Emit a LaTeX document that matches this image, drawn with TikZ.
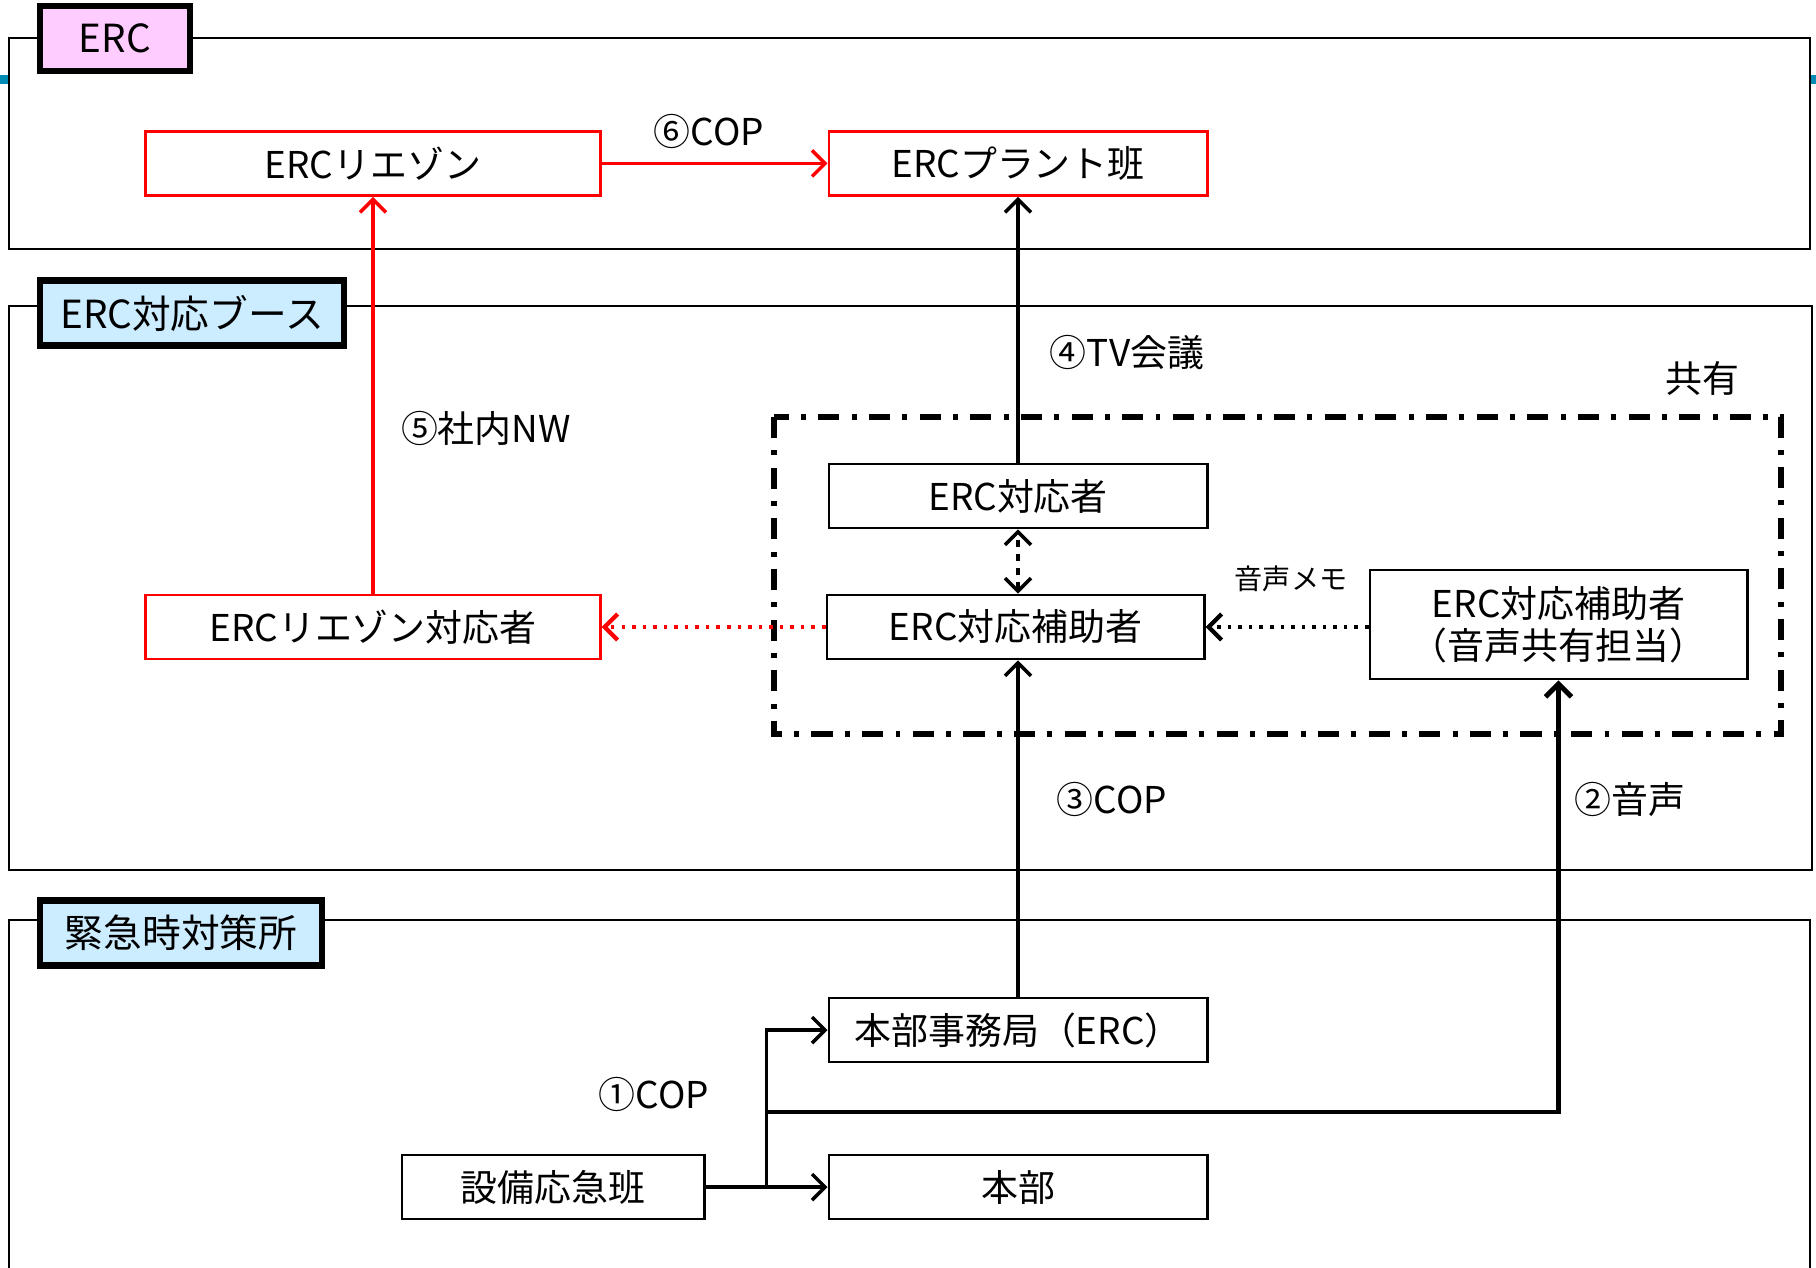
\documentclass[tikz,border=0pt]{standalone}
\usepackage{fontspec}
\setmainfont{Noto Sans CJK JP}
\usetikzlibrary{arrows.meta,calc}
\definecolor{rosa}{RGB}{255,204,255}
\definecolor{celeste}{RGB}{204,236,255}
\definecolor{petrolio}{RGB}{0,140,180}

\begin{document}
\begin{tikzpicture}[x=0.01cm,y=-0.01cm,font=\fontsize{10.5pt}{12pt}\selectfont,
  casella/.style={draw,line width=0.8pt,minimum height=0.64cm,inner sep=1pt},
  rossa/.style={casella,draw=red},
  etichetta/.style={draw,line width=1.8pt,minimum height=0.65cm,font=\fontsize{11pt}{13pt}\selectfont},
  cornice/.style={line width=0.7pt},
  punta/.tip={Straight Barb[length=1.3mm,width=2.6mm]},
  freccia/.style={line width=1pt,-punta},
  frossa/.style={freccia,red}]

\useasboundingbox (0,0) rectangle (1816,1268);

% cornici
\draw[cornice] (9,38) rectangle (1810,249);
\draw[cornice] (9,306) rectangle (1812,870);
\draw[cornice] (9,1268) -- (9,920) -- (1810,920) -- (1810,1268);
\fill[petrolio] (0,75) rectangle (8,84);
\fill[petrolio] (1811,75) rectangle (1816,84);

\node[etichetta,fill=rosa,minimum width=1.5cm] (tagerc) at (115,38.5) {ERC};
\node[etichetta,fill=celeste,minimum width=3.04cm] (tagbooth) at (192,313) {ERC対応ブース};
\node[etichetta,fill=celeste,minimum width=2.82cm] (tageoc) at (181,933) {緊急時対策所};

% area condivisa
\draw[line width=1.5pt,dash pattern=on 6pt off 3.5pt on 1.4pt off 3.5pt] (774,417) rectangle (1781,734);
\node (condiviso) at (1702,378) {共有};

% caselle
\node[rossa,minimum width=4.54cm] (liaison) at (373,163.5) {ERCリエゾン};
\node[rossa,minimum width=3.78cm] (plant) at (1018,163.5) {ERCプラント班};
\node[casella,minimum width=3.78cm] (taiou) at (1018,496) {ERC対応者};
\node[casella,minimum width=3.77cm] (hojo) at (1015.5,627) {ERC対応補助者};
\node[rossa,minimum width=4.54cm] (liaisontaiou) at (373,627) {ERCリエゾン対応者};
\node[casella,minimum width=3.77cm,minimum height=1.09cm,align=center] (onsei) at (1558.5,624.5) {ERC対応補助者\\（音声共有担当）};
\node[casella,minimum width=3.78cm] (jimukyoku) at (1018,1030) {本部事務局（ERC）};
\node[casella,minimum width=3.78cm] (honbu) at (1018,1187) {本部};
\node[casella,minimum width=3.02cm] (setsubi) at (553,1187) {設備応急班};

% collegamenti
\draw[frossa] (liaison) -- (plant);
\draw[frossa] (liaisontaiou) -- (liaison);
\draw[freccia] (taiou.north) -- (taiou.north |- plant.south);
\draw[freccia,dotted,red,line width=1.2pt] (hojo) -- (liaisontaiou);
\draw[freccia,dotted,line width=1.2pt] (onsei.west |- hojo) -- (hojo);
\draw[freccia,punta-punta,dash pattern=on 2pt off 2pt] (hojo.north -| taiou) -- (taiou);
\draw[freccia] (jimukyoku.north) -- (jimukyoku.north |- hojo.south);

\coordinate (split) at ($(setsubi.east)!0.5!(honbu.west)$);
\coordinate (knee) at (split |- 0,1112);
\draw[freccia] (setsubi) -- (honbu);
\draw[freccia] (split) |- (jimukyoku);
\draw[freccia,line width=1.4pt] (knee) -| (onsei);

% etichette
\node (c6) at (709,131) {⑥COP};
\node (c5) at (486,428) {⑤社内NW};
\node (c4) at (1127,353) {④TV会議};
\node[font=\fontsize{8pt}{9pt}\selectfont] (memo) at (1291,579) {音声メモ};
\node (c3) at (1112,799) {③COP};
\node (c2) at (1630,799) {②音声};
\node (c1) at (654,1094) {①COP};

\end{tikzpicture}
\end{document}
